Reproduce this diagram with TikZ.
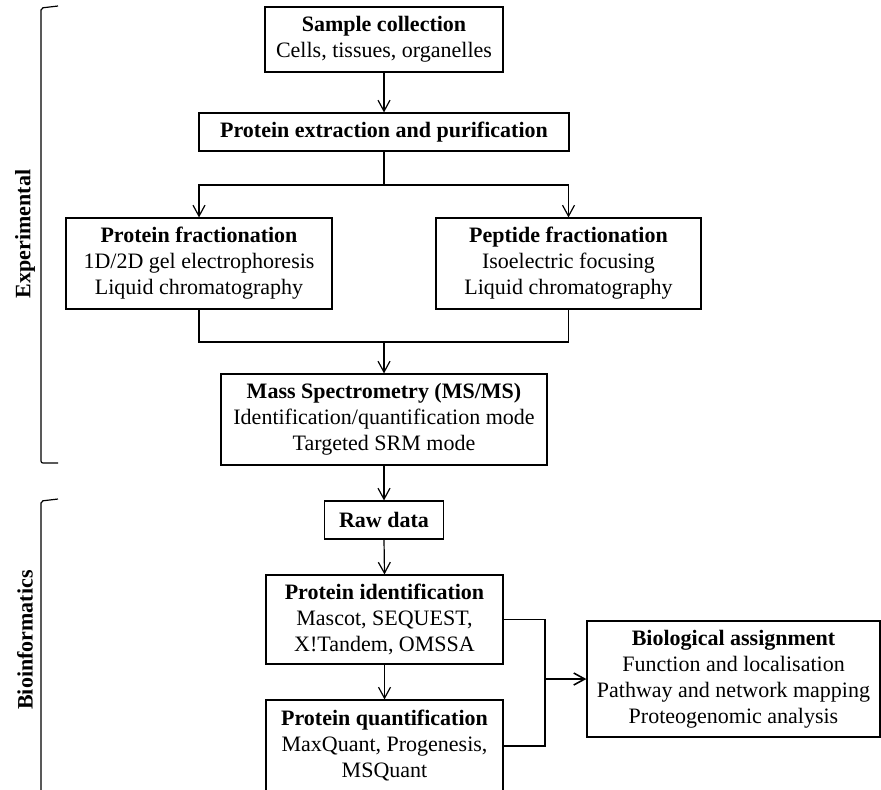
\documentclass[tikz,border=0pt]{standalone}
\usepackage{fontspec}
\setmainfont{Liberation Serif}
\usetikzlibrary{arrows.meta}
\begin{document}
\begin{tikzpicture}[x=0.5pt,y=-0.5pt, line width=0.6pt,
  box/.style={draw, align=center, inner sep=0pt, font=\fontsize{11}{13}\selectfont},
  arr/.style={-{Straight Barb[length=5.5pt,width=6pt]}},
  side/.style={font=\fontsize{11}{13}\selectfont\bfseries, rotate=90},
  brk/.style={rounded corners=1pt}]
\useasboundingbox (0,0) rectangle (881,789);
\begin{scope}
\clip (0,0) rectangle (881,789);
% boxes
\node[box, minimum width=119pt, minimum height=32.5pt] (sample) at (384,39.5)
  {\textbf{Sample collection}\\Cells, tissues, organelles};
\node[box, minimum width=185pt, minimum height=19pt] (extract) at (384,132)
  {\textbf{Protein extraction and purification}};
\node[box, minimum width=133pt, minimum height=45.5pt] (pfrac) at (199,263.5)
  {\textbf{Protein fractionation}\\1D/2D gel electrophoresis\\Liquid chromatography};
\node[box, minimum width=132.5pt, minimum height=45.5pt] (pepfrac) at (568.5,263.5)
  {\textbf{Peptide fractionation}\\Isoelectric focusing\\Liquid chromatography};
\node[box, minimum width=163pt, minimum height=45.5pt] (ms) at (384,419.5)
  {\textbf{Mass Spectrometry (MS/MS)}\\Identification/quantification mode\\Targeted SRM mode};
\node[box, minimum width=59.5pt, minimum height=19pt] (raw) at (384,520)
  {\textbf{Raw data}};
\node[box, minimum width=118.5pt, minimum height=44.5pt] (pid) at (384.5,619.5)
  {\textbf{Protein identification}\\Mascot, SEQUEST,\\X!Tandem, OMSSA};
\node[box, minimum width=118.5pt, minimum height=46pt] (pquant) at (384.5,746)
  {\textbf{Protein quantification}\\MaxQuant, Progenesis,\\MSQuant};
\node[box, minimum width=146.5pt, minimum height=58pt] (bio) at (733.5,679)
  {\textbf{Biological assignment}\\Function and localisation\\Pathway and network mapping\\Proteogenomic analysis};
% junctions
\coordinate (j1) at (384,185);
\coordinate (j2) at (384,342);
\coordinate (j3) at (545,679);
% connectors
\draw[arr] (sample.south) -- (extract.north);
\draw (extract.south) -- (j1);
\draw[arr] (j1) -| (pfrac.north);
\draw[arr] (j1) -| (pepfrac.north);
\draw (pfrac.south) |- (j2) -| (pepfrac.south);
\draw[arr] (j2) -- (ms.north);
\draw[arr] (ms.south) -- (raw.north);
\draw[arr] (raw.south) -- (pid.north);
\draw[arr] (pid.south) -- (pquant.north);
\draw (pid.east) -| (j3);
\draw (pquant.east) -| (j3);
\draw[arr, line width=0.8pt] (j3) -- (bio.west);
% brackets
\draw[brk] (58,6) -- (41,8) -- (41,463) -- (58,463);
\draw[brk] (58,499) -- (41,501) -- (41,800);
\node[side] (lexp) at (25,234) {Experimental};
\node[side] (lbio) at (25,640) {Bioinformatics};
\end{scope}
\end{tikzpicture}
\end{document}
